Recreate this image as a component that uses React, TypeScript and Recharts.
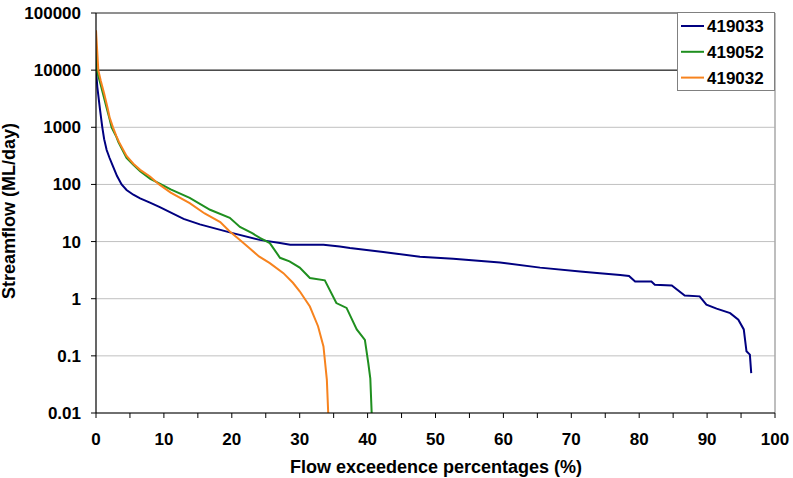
import React from 'react';
import {
  LineChart,
  Line,
  XAxis,
  YAxis,
  CartesianGrid,
  ReferenceLine,
  Legend,
} from 'recharts';

// Flow duration curves: percentage of time a flow is exceeded vs streamflow (ML/day)
const gauges = ['419033', '419052', '419032'];
const gaugeColors = ['#000080', '#1F8F1F', '#F7831E'];

const exceed419033 = [
  0, 0.2, 0.6, 0.93, 1.2, 1.57, 2.0, 2.55, 3.1, 3.77, 4.5, 5.5, 6.5, 7.95, 9.4, 12.9, 15.3, 19.7,
  24.1, 27.1, 28.6, 33.5, 35.9, 37.4, 42.3, 47.7, 52.6, 59.5, 65.4, 71.3, 74.2, 77.2, 78.5, 79.4,
  81.8, 82.3, 84.8, 86.7, 88.9, 89.9, 91.4, 93.4, 94.6, 95.4, 95.8, 96.3, 96.5,
];
const flow419033 = [
  10000, 5000, 2000, 1000, 620, 400, 290, 200, 140, 100, 80, 66, 57, 48, 40, 25, 20, 14.5, 10.7,
  9.4, 8.8, 8.8, 8.2, 7.7, 6.6, 5.4, 5.0, 4.3, 3.5, 3.0, 2.8, 2.6, 2.5, 2.0, 2.0, 1.76, 1.7, 1.14,
  1.1, 0.79, 0.67, 0.56, 0.43, 0.29, 0.12, 0.105, 0.05,
];

const exceed419052 = [
  0, 0.1, 0.7, 1.0, 1.6, 2.0, 2.3, 3.0, 3.3, 4.5, 5.5, 6.5, 8.0, 9.6, 11, 13.8, 16.8, 19.7, 21.2,
  23, 24.2, 25.6, 27.1, 28.5, 30, 31.5, 33.7, 35.4, 36.9, 38.4, 39.6, 40.1, 40.4, 40.6,
];
const flow419052 = [
  30000, 10000, 5500, 4000, 2100, 1400, 1000, 680, 550, 290, 220, 170, 125, 100, 82, 58, 36, 26,
  18, 14, 11.5, 9.4, 5.2, 4.5, 3.5, 2.3, 2.1, 0.84, 0.69, 0.29, 0.19, 0.075, 0.04, 0.01,
];

const exceed419032 = [
  0, 0.34, 0.7, 1.18, 1.7, 2.0, 2.5, 3.0, 3.4, 4.5, 5.5, 6.5, 7.95, 9.3, 11, 13.8, 16, 18.3, 19.7,
  21.2, 22.7, 24, 25.6, 27.6, 29, 30, 31.5, 32.7, 33.5, 34.0, 34.2,
];
const flow419032 = [
  50000, 10000, 6500, 4000, 2200, 1500, 1000, 700, 550, 316, 230, 180, 138, 100, 72, 47, 31, 22,
  15, 10.7, 7.5, 5.5, 4.2, 2.8, 1.9, 1.35, 0.73, 0.33, 0.146, 0.038, 0.01,
];

const xTicks = [0, 5, 10, 15, 20, 25, 30, 35, 40, 45, 50, 55, 60, 65, 70, 75, 80, 85, 90, 95, 100];
const yTicks = [0.01, 0.1, 1, 10, 100, 1000, 10000, 100000];

const toPoints = (xs: number[], ys: number[]) => xs.map((p, i) => ({ p, q: ys[i] }));

const seriesData = [
  toPoints(exceed419033, flow419033),
  toPoints(exceed419052, flow419052),
  toPoints(exceed419032, flow419032),
];

const FONT = '"Liberation Sans", Arial, sans-serif';

const formatFlow = (v: number) => {
  if (v < 1) return String(Number(v.toPrecision(1)));
  return String(Math.round(v));
};

const LegendBox = () => (
  <svg width={99} height={80} style={{ display: 'block' }}>
    <rect x={0.5} y={0.5} width={97} height={78} fill="#ffffff" stroke="#808080" />
    {gauges.map((name, i) => {
      const cy = 14 + i * 25.8;
      return (
        <g key={name}>
          <line x1={4} x2={27} y1={cy} y2={cy} stroke={gaugeColors[i]} strokeWidth={2} />
          <text
            x={30}
            y={cy + 6}
            fontSize={17}
            fontWeight="bold"
            fontFamily={FONT}
            fill="#000"
          >
            {name}
          </text>
        </g>
      );
    })}
  </svg>
);

export default function App() {
  return (
    <div style={{ position: 'absolute', left: 0, top: 0, width: 793, height: 478, background: '#fff' }}>
      <LineChart
        width={793}
        height={478}
        margin={{ top: 13, right: 18, bottom: 25, left: 0 }}
        style={{ fontFamily: FONT }}
      >
        <CartesianGrid vertical={false} stroke="#c0c0c0" strokeWidth={1} />
        <XAxis
          type="number"
          dataKey="p"
          domain={[0, 100]}
          ticks={xTicks}
          interval={0}
          allowDataOverflow
          height={40}
          axisLine={{ stroke: '#000', strokeWidth: 1.2 }}
          tickLine={{ stroke: '#000' }}
          tickSize={5}
          tickMargin={15}
          tick={{ fill: '#000', fontSize: 17, fontWeight: 'bold', fontFamily: FONT }}
          tickFormatter={(v: number) => (v % 10 === 0 ? String(v) : '')}
        />
        <YAxis
          type="number"
          scale="log"
          domain={[0.01, 100000]}
          ticks={yTicks}
          interval={0}
          allowDataOverflow
          width={96}
          axisLine={{ stroke: '#000', strokeWidth: 1.2 }}
          tickLine={{ stroke: '#000' }}
          tickSize={5}
          tickMargin={10}
          tick={{ fill: '#000', fontSize: 17, fontWeight: 'bold', fontFamily: FONT }}
          tickFormatter={formatFlow}
        />
        <ReferenceLine y={100000} stroke="#404040" strokeWidth={1} />
        <ReferenceLine y={10000} stroke="#000" strokeWidth={1} />
        <ReferenceLine x={100} stroke="#a8a8a8" strokeWidth={1.5} />
        {gauges.map((name, i) => (
          <Line
            key={name}
            name={name}
            data={seriesData[i]}
            dataKey="q"
            type="linear"
            stroke={gaugeColors[i]}
            strokeWidth={2}
            dot={false}
            activeDot={false}
            isAnimationActive={false}
          />
        ))}
        <Legend
          layout="vertical"
          align="center"
          verticalAlign="middle"
          wrapperStyle={{ left: 677, top: 12, width: 99, height: 80 }}
          content={() => <LegendBox />}
        />
        <text
          x={15}
          y={211}
          transform="rotate(-90, 15, 211)"
          textAnchor="middle"
          fontSize={18}
          fontWeight="bold"
          fontFamily={FONT}
          fill="#000"
        >
          Streamflow (ML/day)
        </text>
        <text
          x={436}
          y={473}
          textAnchor="middle"
          fontSize={18}
          fontWeight="bold"
          fontFamily={FONT}
          fill="#000"
        >
          Flow exceedence percentages (%)
        </text>
      </LineChart>
    </div>
  );
}
